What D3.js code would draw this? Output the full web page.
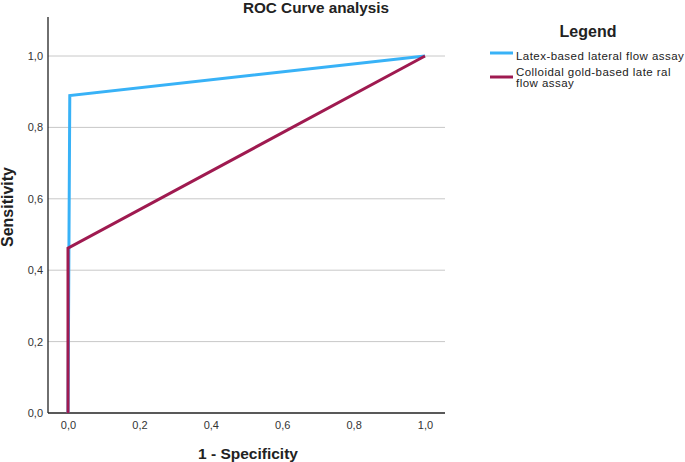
<!DOCTYPE html>
<html>
<head>
<meta charset="utf-8">
<script src="https://cdn.jsdelivr.net/npm/d3@7"></script>
<style>
    body { margin: 0; background: #fff; }
    text { font-family: "Liberation Sans", Arial, sans-serif; }
</style>
</head>
<body>
<script>
// ROC curve data
const seriesNames = ["Latex-based lateral flow assay", "Colloidal gold-based late ral|flow assay"];
const latexFpr = [0, 0.005, 1];
const latexTpr = [0, 0.889, 1];
const goldFpr = [0, 0, 1];
const goldTpr = [0, 0.462, 1];
const tickValues = [0, 0.2, 0.4, 0.6, 0.8, 1.0];
const seriesColors = ["#38b2f7", "#9f1a50"];

const width = 685, height = 462;
const svg = d3.select("body").append("svg").attr("width", width).attr("height", height);

// scales: 0 -> 68px, 1 -> 425px on x; 0 -> 413px, 1 -> 56px on y
const x = d3.scaleLinear().domain([0, 1]).range([68, 425]);
const y = d3.scaleLinear().domain([0, 1]).range([413, 56]);
const plotLeft = 48, plotRight = 445, plotTop = 17, plotBottom = 413;

// gridlines
svg.append("g")
    .selectAll("line")
    .data(tickValues.filter(d => d > 0))
    .enter().append("line")
    .attr("x1", plotLeft).attr("x2", plotRight)
    .attr("y1", d => y(d)).attr("y2", d => y(d))
    .attr("stroke", "#c8c8c8").attr("stroke-width", 1);

const fmt = d => d3.format(".1f")(d).replace(".", ",");

// axes
const yAxis = svg.append("g")
    .attr("transform", "translate(" + plotLeft + ",0)")
    .call(d3.axisLeft(y).tickValues(tickValues).tickFormat(fmt).tickSize(0).tickPadding(5));
yAxis.select(".domain").attr("d", "M0," + plotTop + "V" + plotBottom).attr("stroke", "#222").attr("stroke-width", 1.3);

const xAxis = svg.append("g")
    .attr("transform", "translate(0," + plotBottom + ")")
    .call(d3.axisBottom(x).tickValues(tickValues).tickFormat(fmt).tickSize(0).tickPadding(8));
xAxis.select(".domain").attr("d", "M" + plotLeft + ",0H" + plotRight).attr("stroke", "#222").attr("stroke-width", 1.3);

svg.selectAll(".tick text")
    .style("font-family", "'Liberation Sans', Arial, sans-serif")
    .style("font-size", "11px")
    .attr("fill", "#333");

// curves
const line = d3.line().x(d => x(d[0])).y(d => y(d[1]));
const series = [
    d3.zip(latexFpr, latexTpr),
    d3.zip(goldFpr, goldTpr)
];
svg.append("g")
    .selectAll("path")
    .data(series)
    .enter().append("path")
    .attr("d", line)
    .attr("fill", "none")
    .attr("stroke", (d, i) => seriesColors[i])
    .attr("stroke-width", 3)
    .attr("stroke-linejoin", "miter");

// titles
svg.append("text").attr("x", 316).attr("y", 13).attr("text-anchor", "middle")
    .style("font-size", "15.3px").style("font-weight", "bold").attr("fill", "#222")
    .text("ROC Curve analysis");

svg.append("text").attr("x", 248).attr("y", 459).attr("text-anchor", "middle")
    .style("font-size", "15.5px").style("font-weight", "bold").attr("fill", "#222")
    .text("1 - Specificity");

svg.append("text").attr("transform", "translate(13,207) rotate(-90)").attr("text-anchor", "middle")
    .style("font-size", "16px").style("font-weight", "bold").attr("fill", "#222")
    .text("Sensitivity");

// legend
const legend = svg.append("g");
legend.append("text").attr("x", 588).attr("y", 37).attr("text-anchor", "middle")
    .style("font-size", "16px").style("font-weight", "bold").attr("fill", "#222")
    .text("Legend");

const legendY = [53, 77];
const legendBase = [60, 76];
seriesNames.forEach((name, i) => {
    legend.append("line")
        .attr("x1", 490).attr("x2", 513)
        .attr("y1", legendY[i]).attr("y2", legendY[i])
        .attr("stroke", seriesColors[i]).attr("stroke-width", 3);
    name.split("|").forEach((part, j) => {
        legend.append("text").attr("x", 516).attr("y", legendBase[i] + j * 11)
            .style("font-size", "11.5px").style("letter-spacing", "0.45px").attr("fill", "#222")
            .text(part);
    });
});
</script>
</body>
</html>
